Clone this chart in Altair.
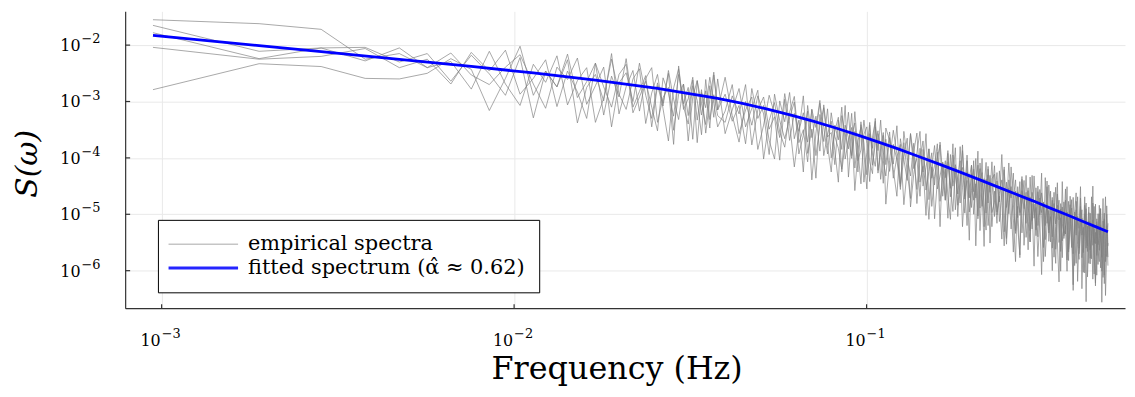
import math
import altair as alt
import pandas as pd

FONT = "DejaVu Serif"

# frequency grid: f_k = k * DF  (Hz)
DF = 0.000945
K = list(range(1, 41)) + list(range(42, 121, 2)) + list(range(123, 241, 3)) + list(range(244, 513, 4))

# empirical spectra, log10 S(omega)
SPEC_1 = [-1.55, -1.62, -1.72, -2.25, -2.15, -2.40, -2.14, -2.53, -2.70, -2.39, -2.17, -2.69, -3.12, -2.39, -2.61, -2.23, -3.05, -2.72, -2.39, -3.45,
          -2.67, -2.49, -3.00, -2.32, -2.89, -3.30, -2.67, -3.03, -2.50, -3.51, -2.87, -2.69, -3.25, -2.62, -3.73, -2.84, -3.11, -2.57, -3.03, -3.45,
          -3.17, -2.70, -3.57, -3.15, -2.92, -3.85, -3.42, -2.89, -3.22, -3.64, -2.86, -3.39, -4.16, -3.53, -3.20, -3.72, -3.14, -3.96, -3.43, -3.11,
          -3.78, -4.25, -3.42, -3.68, -3.10, -4.02, -3.69, -3.46, -4.58, -3.90, -3.41, -3.73, -4.30, -3.42, -3.93, -4.15, -3.57, -3.78, -4.45, -3.47,
          -3.69, -4.21, -4.68, -3.66, -4.03, -4.40, -3.57, -4.19, -4.01, -4.68, -3.85, -4.37, -5.09, -4.16, -3.78, -4.55, -4.32, -4.08, -4.75, -3.92,
          -4.49, -4.95, -4.12, -4.39, -4.80, -3.87, -4.53, -5.20, -4.36, -4.13, -4.75, -4.46, -5.03, -4.09, -4.61, -5.57, -4.38, -4.80, -4.31, -4.97,
          -4.79, -4.26, -5.13, -4.59, -4.16, -5.43, -4.79, -4.51, -5.07, -5.84, -4.51, -5.02, -4.78, -4.40, -5.41, -4.98, -4.69, -5.26, -4.32, -4.93,
          -5.75, -5.11, -4.62, -4.89, -5.45, -4.51, -5.28, -5.04, -6.00, -4.81, -5.17, -4.44, -5.50, -5.06, -5.77, -4.78, -5.35, -4.96, -5.67, -5.23,
          -4.74, -6.35, -5.11, -4.92, -5.54, -5.80, -4.71, -5.37, -5.23, -6.04, -4.90, -5.56, -5.12, -5.78, -5.39, -4.50, -5.71, -6.22, -5.13, -5.54,
          -5.39, -4.90, -6.01, -5.32, -5.08, -6.44, -5.65, -5.16]
SPEC_2 = [-1.65, -2.11, -2.05, -2.04, -2.30, -2.15, -2.64, -2.18, -2.51, -2.89, -2.22, -3.29, -2.46, -2.74, -2.16, -2.93, -2.65, -2.32, -3.24, -2.55,
          -2.92, -2.24, -3.10, -2.82, -2.54, -3.45, -2.72, -3.08, -2.45, -2.96, -3.32, -2.69, -3.70, -2.92, -2.63, -3.24, -2.81, -3.47, -2.53, -3.15,
          -2.87, -3.35, -3.07, -3.75, -2.77, -3.30, -3.07, -3.69, -4.02, -2.99, -3.36, -2.84, -3.66, -3.33, -4.25, -3.07, -3.64, -3.26, -3.88, -3.06,
          -3.63, -3.55, -4.12, -3.33, -3.85, -3.07, -4.34, -3.61, -3.38, -4.05, -3.86, -3.33, -3.75, -4.42, -3.63, -3.35, -4.27, -3.93, -3.60, -4.82,
          -4.04, -3.51, -3.93, -4.46, -3.73, -4.25, -4.72, -3.89, -3.56, -4.43, -4.15, -5.02, -3.84, -4.36, -4.13, -3.75, -4.77, -4.33, -4.05, -4.67,
          -5.09, -3.95, -4.32, -4.64, -3.80, -4.52, -4.98, -4.25, -4.46, -4.88, -4.05, -5.56, -4.43, -4.19, -4.86, -4.52, -4.08, -5.20, -4.76, -4.37,
          -4.29, -4.96, -4.68, -5.44, -4.21, -4.88, -4.54, -5.26, -4.72, -4.39, -5.21, -5.72, -4.58, -4.90, -4.31, -5.13, -5.49, -4.61, -4.82, -5.28,
          -4.50, -5.06, -6.07, -4.79, -5.20, -4.41, -5.48, -5.04, -4.70, -5.76, -5.22, -4.84, -5.00, -5.66, -4.42, -5.43, -5.20, -6.01, -4.77, -5.13,
          -5.59, -4.70, -5.36, -5.87, -5.04, -5.25, -4.51, -5.77, -5.48, -4.99, -6.55, -5.26, -4.87, -5.63, -5.44, -5.10, -6.06, -4.82, -5.73, -5.29,
          -4.99, -5.95, -5.46, -4.72, -6.23, -5.59, -5.20, -5.91]
SPEC_3 = [-1.78, -2.24, -2.05, -2.28, -2.05, -2.40, -2.29, -2.78, -2.11, -2.69, -3.07, -2.34, -2.66, -2.19, -3.06, -2.63, -2.40, -3.37, -2.94, -2.25,
          -2.87, -3.14, -2.60, -2.42, -3.39, -2.85, -2.52, -3.13, -3.70, -2.76, -2.42, -3.09, -3.40, -2.72, -2.98, -3.59, -2.61, -3.32, -2.88, -3.25,
          -3.37, -2.90, -3.22, -2.70, -3.77, -3.15, -2.92, -3.49, -3.27, -4.04, -2.96, -3.69, -3.21, -3.53, -2.90, -3.92, -3.49, -4.36, -3.23, -3.71,
          -3.13, -4.00, -3.52, -3.28, -4.25, -3.72, -3.19, -3.96, -3.53, -4.25, -3.36, -3.93, -4.55, -3.57, -3.83, -3.30, -4.22, -3.83, -3.55, -4.12,
          -3.54, -4.36, -3.98, -3.76, -4.83, -4.20, -3.57, -3.99, -4.56, -3.83, -4.25, -3.57, -4.74, -4.16, -4.48, -3.90, -5.22, -4.08, -4.35, -3.87,
          -4.69, -4.35, -3.82, -5.04, -4.30, -4.17, -4.73, -4.05, -4.96, -4.58, -4.20, -4.71, -3.88, -5.29, -4.51, -4.37, -4.98, -4.15, -4.66, -5.22,
          -4.59, -5.16, -4.23, -4.79, -5.56, -4.43, -4.99, -4.16, -4.82, -5.34, -4.61, -4.97, -4.33, -5.55, -4.86, -4.53, -5.29, -4.81, -5.92, -4.53,
          -5.20, -4.71, -5.02, -5.59, -4.35, -5.16, -4.93, -5.49, -4.75, -5.26, -5.87, -4.64, -5.10, -4.91, -5.47, -5.23, -4.55, -5.81, -5.12, -4.83,
          -5.49, -6.25, -4.96, -5.37, -4.69, -5.70, -5.31, -5.07, -6.03, -4.84, -5.30, -5.66, -4.97, -5.88, -4.69, -5.55, -5.26, -6.27, -5.08, -5.64,
          -5.84, -4.90, -5.51, -6.12, -5.23, -4.69, -5.75, -5.51]
SPEC_4 = [-2.04, -2.25, -2.20, -2.06, -2.40, -2.25, -2.69, -2.13, -2.46, -2.09, -2.87, -2.59, -2.26, -3.09, -2.46, -2.83, -3.30, -2.32, -2.74, -3.10,
          -2.52, -2.34, -3.20, -2.92, -2.64, -3.10, -3.52, -2.58, -2.85, -3.26, -2.52, -3.04, -2.75, -3.67, -2.63, -3.04, -3.41, -2.72, -3.28, -2.60,
          -3.57, -3.15, -2.77, -3.45, -3.12, -2.80, -4.02, -3.34, -3.02, -3.54, -3.81, -3.19, -2.91, -3.73, -3.50, -4.07, -3.14, -3.46, -2.98, -3.96,
          -3.58, -3.35, -3.87, -4.43, -3.25, -3.57, -3.84, -3.21, -4.18, -3.70, -3.46, -4.43, -3.90, -3.37, -4.13, -3.75, -3.52, -4.38, -3.95, -3.67,
          -4.24, -3.76, -4.03, -4.56, -3.53, -4.00, -4.32, -3.74, -4.81, -4.03, -3.70, -4.57, -4.24, -3.91, -5.08, -4.40, -3.72, -4.28, -4.75, -4.07,
          -4.54, -3.75, -4.92, -4.34, -4.05, -5.22, -4.53, -3.95, -4.71, -4.28, -5.00, -4.51, -4.13, -4.89, -4.01, -5.22, -4.48, -4.30, -5.51, -4.67,
          -4.14, -5.01, -4.63, -4.39, -5.31, -4.88, -4.09, -4.81, -5.67, -4.59, -5.06, -4.42, -5.33, -4.85, -4.61, -5.63, -4.34, -5.11, -4.82, -5.38,
          -4.60, -5.01, -4.27, -5.84, -5.10, -4.81, -5.33, -4.59, -5.60, -5.01, -4.52, -5.49, -6.20, -4.81, -5.17, -5.33, -4.75, -5.06, -5.82, -4.68,
          -5.29, -5.70, -4.96, -4.62, -6.19, -5.40, -5.16, -4.92, -5.68, -5.29, -4.80, -6.11, -5.37, -5.13, -5.79, -4.80, -5.51, -5.32, -6.08, -4.99,
          -5.64, -5.20, -6.56, -5.42, -4.98, -5.84, -4.85, -5.56]
SPEC_5 = [-2.79, -2.33, -2.38, -2.59, -2.60, -2.50, -2.24, -2.43, -3.16, -2.59, -2.02, -2.89, -2.46, -2.74, -2.26, -3.38, -2.75, -2.52, -2.99, -2.15,
          -3.22, -2.74, -2.45, -3.17, -2.59, -2.40, -3.37, -2.93, -2.75, -3.76, -2.37, -3.14, -2.95, -2.57, -3.33, -2.79, -3.56, -2.97, -2.48, -3.15,
          -2.57, -3.25, -3.72, -3.00, -3.42, -2.90, -3.22, -3.94, -2.87, -3.34, -3.66, -3.29, -3.01, -3.93, -3.60, -3.17, -4.39, -3.56, -3.03, -3.46,
          -3.93, -3.20, -3.62, -3.83, -4.20, -3.42, -3.64, -4.01, -3.18, -3.85, -4.46, -3.58, -3.45, -4.07, -4.28, -3.45, -3.87, -3.33, -4.05, -4.32,
          -3.64, -4.11, -3.43, -4.51, -3.98, -3.65, -4.87, -4.29, -3.91, -3.53, -4.50, -4.17, -3.84, -4.86, -4.33, -4.00, -3.77, -4.68, -4.20, -5.07,
          -3.94, -4.50, -4.17, -4.84, -4.45, -3.77, -4.68, -4.40, -5.46, -4.13, -4.60, -4.01, -5.08, -4.44, -4.26, -4.87, -5.28, -4.20, -4.61, -4.07,
          -5.04, -4.41, -4.78, -3.94, -4.96, -5.53, -4.39, -4.71, -4.27, -5.29, -4.86, -5.77, -4.38, -4.75, -5.16, -4.58, -5.49, -4.31, -5.07, -4.88,
          -5.40, -4.56, -4.97, -4.79, -5.75, -5.21, -4.48, -4.94, -5.40, -4.61, -5.62, -5.09, -4.75, -6.01, -4.87, -5.38, -5.20, -4.51, -5.62, -5.08,
          -4.89, -5.40, -5.91, -4.77, -5.19, -5.60, -4.86, -6.32, -5.38, -4.69, -5.60, -5.21, -5.87, -4.98, -5.34, -6.15, -4.86, -5.52, -5.18, -5.89,
          -4.84, -5.45, -5.76, -5.12, -6.08, -5.39, -5.00, -5.76]

# fitted spectrum, log10 S(omega) at selected k
FIT_K = [1, 2, 3, 5, 8, 12, 18, 27, 40, 47, 55, 65, 75, 87, 100, 115, 130, 150, 170, 195, 220, 250, 280, 315, 350, 390, 430, 470, 512]
FIT_LOG10 = [-1.829, -2.010, -2.117, -2.252, -2.379, -2.493, -2.619, -2.766, -2.946, -3.035, -3.132, -3.246, -3.354, -3.475,
             -3.596, -3.724, -3.841, -3.983, -4.110, -4.253, -4.381, -4.518, -4.641, -4.766, -4.886, -5.003, -5.114, -5.214, -5.309]

EMP = "empirical spectra"
FIT = "fitted spectrum (\u03b1\u0302 \u2248 0.62)"

# tick values and their labels (mantissa + exponent)
XTICKS = [1e-3, 1e-2, 1e-1]
XTICK_BASE = ["10", "10", "10"]
XTICK_EXP = ["\u22123", "\u22122", "\u22121"]
YTICKS = [1e-6, 1e-5, 1e-4, 1e-3, 1e-2]
YTICK_BASE = ["10", "10", "10", "10", "10"]
YTICK_EXP = ["\u22126", "\u22125", "\u22124", "\u22123", "\u22122"]

rows = []
for i, s in enumerate([SPEC_1, SPEC_2, SPEC_3, SPEC_4, SPEC_5]):
    assert len(s) == len(K), (i, len(s))
    for k, v in zip(K, s):
        rows.append({"freq": k * DF, "S": 10 ** v, "series": EMP, "line": f"emp{i}"})
emp_df = pd.DataFrame(rows)
fit_df = pd.DataFrame({"freq": [k * DF for k in FIT_K], "S": [10 ** v for v in FIT_LOG10],
                       "series": FIT, "line": "fit"})
xtick_df = pd.DataFrame({"freq": XTICKS, "base": XTICK_BASE, "exp": XTICK_EXP})
ytick_df = pd.DataFrame({"S": YTICKS, "base": YTICK_BASE, "exp": YTICK_EXP})

W, H = 1007, 299
AXIS_COLOR = "#333333"
GRID_COLOR = "#e9e9e9"

X = alt.X("freq:Q",
          scale=alt.Scale(type="log", domain=[7.88e-4, 0.541], nice=False, zero=False),
          axis=alt.Axis(values=XTICKS, labels=False, ticks=False, title="Frequency (Hz)",
                        domainColor=AXIS_COLOR, domainWidth=1.2,
                        grid=True, gridColor=GRID_COLOR, gridWidth=1,
                        titleFont=FONT, titleFontSize=32, titleFontWeight="normal", titleColor="black",
                        titleX=495, titleY=71, titleAlign="center", titleBaseline="alphabetic"))
Y = alt.Y("S:Q",
          scale=alt.Scale(type="log", domain=[2.16e-7, 0.0397], nice=False, zero=False),
          axis=alt.Axis(values=YTICKS, labels=False, ticks=False, title="S(\u03c9)",
                        domainColor=AXIS_COLOR, domainWidth=1.2,
                        grid=True, gridColor=GRID_COLOR, gridWidth=1,
                        titleFont=FONT, titleFontSize=30, titleFontWeight="normal", titleFontStyle="italic",
                        titleColor="black", titleX=-98, titleY=153, titleAngle=270,
                        titleAlign="center", titleBaseline="middle"))

LEG = alt.Legend(title=None, orient="none", legendX=33, legendY=210, direction="vertical",
                 strokeColor="#000000", fillColor="#ffffff", padding=14, cornerRadius=0,
                 symbolType="M-3.5,0H3.5", symbolSize=400, symbolOffset=20.2,
                 labelFont=FONT, labelFontSize=21, labelColor="black", labelOffset=33.5,
                 labelLimit=600, rowPadding=2)

color = alt.Color("series:N", scale=alt.Scale(domain=[EMP, FIT], range=["#808080", "#0000ff"]), legend=LEG)
sw = alt.StrokeWidth("series:N", scale=alt.Scale(domain=[EMP, FIT], range=[0.8, 2.8]), legend=LEG)

gray = alt.Chart(emp_df).mark_line(opacity=0.85, clip=True).encode(
    x=X, y=Y, color=color, strokeWidth=sw, detail="line:N")
blue = alt.Chart(fit_df).mark_line(clip=True).encode(x=X, y=Y, color=color, strokeWidth=sw)

# small inward tick marks
xt = alt.Chart(xtick_df).mark_rule(color=AXIS_COLOR, strokeWidth=1.2).encode(
    x=X, y=alt.value(H), y2=alt.value(H - 4))
yt = alt.Chart(ytick_df).mark_rule(color=AXIS_COLOR, strokeWidth=1.2).encode(
    y=Y, x=alt.value(0), x2=alt.value(5))

# tick labels: mantissa "10" and raised exponent
xl_base = alt.Chart(xtick_df).mark_text(font=FONT, fontSize=16, color="black", align="right",
                                        baseline="alphabetic", dx=-1).encode(
    x=X, y=alt.value(H + 38), text="base:N")
xl_exp = alt.Chart(xtick_df).mark_text(font=FONT, fontSize=13, color="black", align="left",
                                       baseline="alphabetic", dx=0).encode(
    x=X, y=alt.value(H + 30), text="exp:N")
yl_base = alt.Chart(ytick_df).mark_text(font=FONT, fontSize=16, color="black", align="right",
                                        baseline="alphabetic", dy=6).encode(
    y=Y, x=alt.value(-45), text="base:N")
yl_exp = alt.Chart(ytick_df).mark_text(font=FONT, fontSize=13, color="black", align="left",
                                       baseline="alphabetic", dy=-2).encode(
    y=Y, x=alt.value(-44), text="exp:N")

chart = alt.layer(gray, blue, xt, yt, xl_base, xl_exp, yl_base, yl_exp).properties(
    width=W, height=H,
    autosize=alt.AutoSizeParams(type="none"),
    padding={"left": 118, "top": 2, "right": 2, "bottom": 80},
    background="white",
).configure_view(stroke=None)

chart.save("out.html", embed_options={"renderer": "svg", "actions": False})
